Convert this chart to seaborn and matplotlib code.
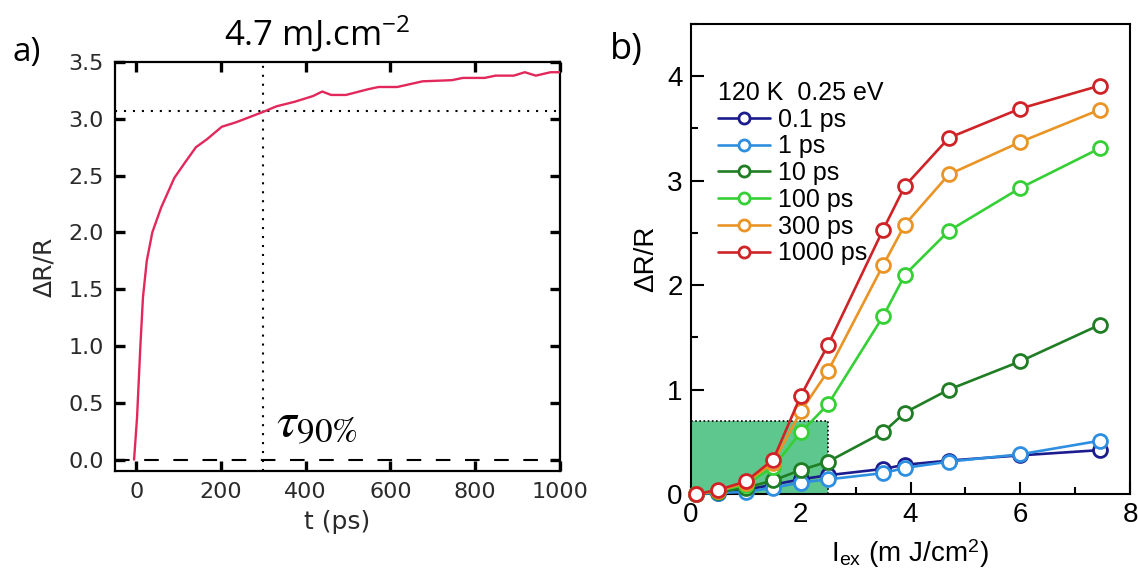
import numpy as np
import pandas as pd
import matplotlib
matplotlib.use("Agg")
import matplotlib.pyplot as plt
from matplotlib.patches import Rectangle
from matplotlib.ticker import MultipleLocator, AutoMinorLocator, FormatStrFormatter
import seaborn as sns

# ---------------- data: panel a ----------------
t_ps = [-5, 2, 6, 10, 16, 25, 38, 59, 90, 116, 141, 167, 202, 236, 271, 299, 331,
        374, 417, 439, 460, 495, 547, 572, 616, 676, 745, 771, 822, 848, 891,
        917, 943, 978, 1000]
dR_a = [0.0, 0.37, 0.69, 1.01, 1.43, 1.75, 2.0, 2.22, 2.48, 2.62, 2.75, 2.82, 2.93,
        2.97, 3.02, 3.06, 3.11, 3.15, 3.20, 3.24, 3.21, 3.21, 3.26, 3.28, 3.28,
        3.33, 3.34, 3.36, 3.36, 3.38, 3.38, 3.41, 3.38, 3.41, 3.41]
tau90 = 300
level90 = 3.07

# ---------------- data: panel b ----------------
fluence = [0.1, 0.5, 1.0, 1.5, 2.0, 2.5, 3.5, 3.9, 4.7, 6.0, 7.45]
delays = ["0.1 ps", "1 ps", "10 ps", "100 ps", "300 ps", "1000 ps"]
p01 = [0, 0.01, 0.04, 0.09, 0.14, 0.18, 0.24, 0.28, 0.32, 0.37, 0.42]
p1 = [0, 0.01, 0.02, 0.06, 0.11, 0.14, 0.20, 0.25, 0.31, 0.38, 0.51]
p10 = [0, 0.02, 0.06, 0.13, 0.23, 0.31, 0.59, 0.78, 1.00, 1.27, 1.62]
p100 = [0, 0.03, 0.09, 0.26, 0.59, 0.86, 1.70, 2.10, 2.52, 2.93, 3.31]
p300 = [0, 0.03, 0.11, 0.30, 0.79, 1.18, 2.19, 2.58, 3.06, 3.37, 3.68]
p1000 = [0, 0.04, 0.12, 0.33, 0.94, 1.43, 2.53, 2.95, 3.41, 3.69, 3.91]
series_b = [p01, p1, p10, p100, p300, p1000]
colors_b = ["#1c1c8f", "#2e8fe0", "#1f7d23", "#35d035", "#ea9425", "#cf2327"]
box_x, box_y = 2.5, 0.7

sns.set_theme(style="white")
plt.rcParams["mathtext.fontset"] = "stix"

fig = plt.figure(figsize=(11.38, 5.68), dpi=100)
W, H = 1138, 568
ax1 = fig.add_axes([115 / W, 1 - 471 / H, (560 - 115) / W, (471 - 62) / H])
ax2 = fig.add_axes([691 / W, 1 - 494 / H, (1130 - 691) / W, (494 - 24) / H])

# ---------------- panel a ----------------
dfa = pd.DataFrame({"t": t_ps, "dR": dR_a})
sns.lineplot(data=dfa, x="t", y="dR", ax=ax1, color="#e2285a", lw=1.7, sort=False, zorder=3)
ax1.axhline(0, color="black", ls=(0, (7, 7)), lw=1.5, zorder=2)
ax1.axhline(level90, color="black", ls=(0, (1, 3.3)), lw=1.5, zorder=2)
ax1.axvline(tau90, color="black", ls=(0, (1, 3.3)), lw=1.5, zorder=2)
ax1.set_xlim(-50, 1000)
ax1.set_ylim(-0.1, 3.5)
ax1.xaxis.set_major_locator(MultipleLocator(200))
ax1.yaxis.set_major_locator(MultipleLocator(0.5))
ax1.yaxis.set_major_formatter(FormatStrFormatter("%.1f"))
ax1.tick_params(which="major", direction="in", length=7, width=2.4, top=True, right=True,
                bottom=True, left=True, labelsize=16, pad=8, labelcolor="#2a2a2a", color="black")
for lab in ax1.get_xticklabels() + ax1.get_yticklabels():
    lab.set_family("DejaVu Sans")
for s in ax1.spines.values():
    s.set_linewidth(1.6)
    s.set_color("black")
ax1.set_xlabel("t (ps)", fontsize=18, family="DejaVu Sans", color="#2a2a2a", labelpad=6)
ax1.set_ylabel("ΔR/R", fontsize=18, family="DejaVu Sans", color="#2a2a2a", labelpad=9)
ax1.set_title("4.7 mJ.cm$^{\\mathregular{-2}}$", fontsize=25, family="Open Sans", pad=12,
              x=0.455, color="black")
ax1.text(330, 0.2, r"$\tau_{90\%}$", fontsize=36, color="black")
fig.text(27 / W, 1 - 52 / H, "a)", fontsize=24, family="Open Sans", ha="center", va="center",
         color="black")

# ---------------- panel b ----------------
ax2.add_patch(Rectangle((0, 0), box_x, box_y, facecolor="#5ec78e", edgecolor="none", zorder=1))
ax2.plot([0, box_x], [box_y, box_y], ls=(0, (1, 1.5)), color="black", lw=1.2, zorder=1.5)
ax2.plot([box_x, box_x], [0, box_y], ls=(0, (1, 1.5)), color="black", lw=1.2, zorder=1.5)

rows = []
for name, vals in zip(delays, series_b):
    for xv, yv in zip(fluence, vals):
        rows.append({"fluence": xv, "dR": yv, "delay": name})
dfb = pd.DataFrame(rows)
for i, (name, col) in enumerate(zip(delays, colors_b)):
    sub = dfb[dfb["delay"] == name]
    sns.lineplot(data=sub, x="fluence", y="dR", ax=ax2, color=col, lw=1.9, marker="o",
                 markersize=10, markerfacecolor="white", markeredgecolor=col,
                 markeredgewidth=2.0, label=name, sort=False, zorder=3 + i, clip_on=False)

ax2.set_xlim(0, 8)
ax2.set_ylim(0, 4.5)
ax2.xaxis.set_major_locator(MultipleLocator(2))
ax2.yaxis.set_major_locator(MultipleLocator(1))
ax2.xaxis.set_minor_locator(AutoMinorLocator(2))
ax2.yaxis.set_minor_locator(AutoMinorLocator(2))
ax2.tick_params(which="major", direction="in", length=9, width=1.5, bottom=True, left=True,
                labelsize=20, pad=6, color="black", labelcolor="black")
ax2.tick_params(which="minor", direction="in", length=5, width=1.5, bottom=True, left=True,
                color="black")
for lab in ax2.get_xticklabels() + ax2.get_yticklabels():
    lab.set_family("Liberation Sans")
for s in ax2.spines.values():
    s.set_linewidth(1.5)
    s.set_color("black")
ax2.set_xlabel("I$_{\\mathregular{ex}}$ (m J/cm$^{\\mathregular{2}}$)", fontsize=20,
               family="Liberation Sans", labelpad=6, color="black")
ax2.set_ylabel("ΔR/R", fontsize=20, family="Liberation Sans", labelpad=6, color="black")
leg = ax2.legend(title="120 K  0.25 eV", loc="upper left", bbox_to_anchor=(0.061, 0.879),
                 frameon=False, fontsize=18, title_fontsize=18, handlelength=2.1,
                 handletextpad=0.3, labelspacing=0.11, borderaxespad=0, borderpad=0,
                 alignment="left", markerscale=0.8, labelcolor="black")
for txt in leg.get_texts():
    txt.set_family("Liberation Sans")
leg.get_title().set_family("Liberation Sans")
leg.get_title().set_color("black")
fig.text(626 / W, 1 - 50 / H, "b)", fontsize=26, family="Open Sans", ha="center", va="center",
         color="black")

fig.savefig("out.png", dpi=100)
